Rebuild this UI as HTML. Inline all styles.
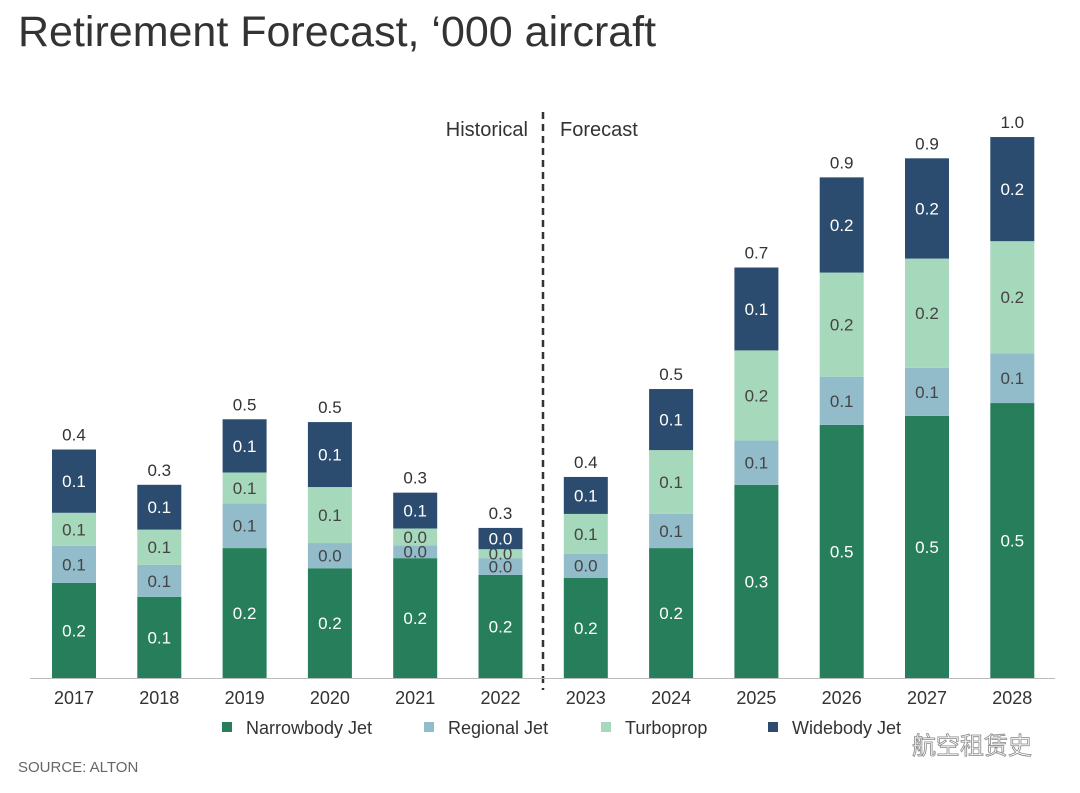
<!DOCTYPE html>
<html><head><meta charset="utf-8"><style>
body{margin:0;background:#fff;font-family:"Liberation Sans","Noto Sans CJK SC",sans-serif;}
#wrap{position:relative;width:1080px;height:793px;overflow:hidden;}
</style></head><body>
<div id="wrap">
<svg id="chart" width="1080" height="793" xmlns="http://www.w3.org/2000/svg">
<text x="18" y="46" font-size="43" fill="#333">Retirement Forecast, ‘000 aircraft</text>
<line x1="543" y1="112" x2="543" y2="690" stroke="#333" stroke-width="2.5" stroke-dasharray="7,5"/>
<text x="528" y="136" font-size="20" fill="#333" text-anchor="end">Historical</text>
<text x="560" y="136" font-size="20" fill="#333">Forecast</text>
<line x1="30" y1="678.5" x2="1055" y2="678.5" stroke="#bbb" stroke-width="1"/>
<g id="bars"></g>
<g>
<rect x="222" y="722" width="10" height="10" fill="#267f5a"/>
<text x="246" y="734" font-size="18" fill="#333">Narrowbody Jet</text>
<rect x="424" y="722" width="10" height="10" fill="#93bccb"/>
<text x="448" y="734" font-size="18" fill="#333">Regional Jet</text>
<rect x="601" y="722" width="10" height="10" fill="#a6d8bb"/>
<text x="625" y="734" font-size="18" fill="#333">Turboprop</text>
<rect x="768" y="722" width="10" height="10" fill="#2b4b6f"/>
<text x="792" y="734" font-size="18" fill="#333">Widebody Jet</text>
</g>
<text x="18" y="772" font-size="15" fill="#666">SOURCE: ALTON</text>
<text x="912" y="754" font-size="24" fill="#fff" stroke="#888" stroke-width="0.8">航空租赁史</text>
</svg>
</div>
<script>
const years=["2017","2018","2019","2020","2021","2022","2023","2024","2025","2026","2027","2028"];
const narrowbody=[0.170,0.145,0.232,0.196,0.214,0.184,0.179,0.232,0.345,0.452,0.468,0.491];
const regional=[0.066,0.057,0.080,0.045,0.023,0.030,0.043,0.061,0.079,0.086,0.086,0.089];
const turboprop=[0.059,0.063,0.055,0.100,0.030,0.016,0.071,0.114,0.161,0.186,0.195,0.200];
const widebody=[0.113,0.080,0.095,0.116,0.064,0.038,0.066,0.109,0.148,0.170,0.179,0.186];
const series=[
 {name:"narrowbody",vals:narrowbody,color:"#267f5a",text:"#fff"},
 {name:"regional",vals:regional,color:"#93bccb",text:"#444"},
 {name:"turboprop",vals:turboprop,color:"#a6d8bb",text:"#444"},
 {name:"widebody",vals:widebody,color:"#2b4b6f",text:"#fff"}];
const NS="http://www.w3.org/2000/svg";
const baseY=678, scale=560, x0=74, step=85.3, bw=44;
function xPos(i){return x0+i*step;}
function yPos(v){return baseY-v*scale;}
const g=document.getElementById("bars");
function mk(tag,attrs){const e=document.createElementNS(NS,tag);for(const k in attrs)e.setAttribute(k,attrs[k]);g.appendChild(e);return e;}
years.forEach((yr,i)=>{
 let cum=0;
 series.forEach(s=>{
  const v=s.vals[i];
  const r=mk("rect",{x:xPos(i)-bw/2,y:yPos(cum+v),width:bw,height:v*scale,fill:s.color});
  
  
  const t=mk("text",{x:xPos(i),y:yPos(cum+v/2)+6,"text-anchor":"middle","font-size":"17",fill:s.text});
  t.textContent=v.toFixed(1);
  
  
  cum+=v;
 });
 const tt=mk("text",{x:xPos(i),y:yPos(cum)-9,"text-anchor":"middle","font-size":"17",fill:"#333"});
 tt.textContent=cum.toFixed(1);
 
 
 const xl=mk("text",{x:xPos(i),y:704,"text-anchor":"middle","font-size":"18",fill:"#333"});
 xl.textContent=yr;
 
 
});
</script>
</body></html>
